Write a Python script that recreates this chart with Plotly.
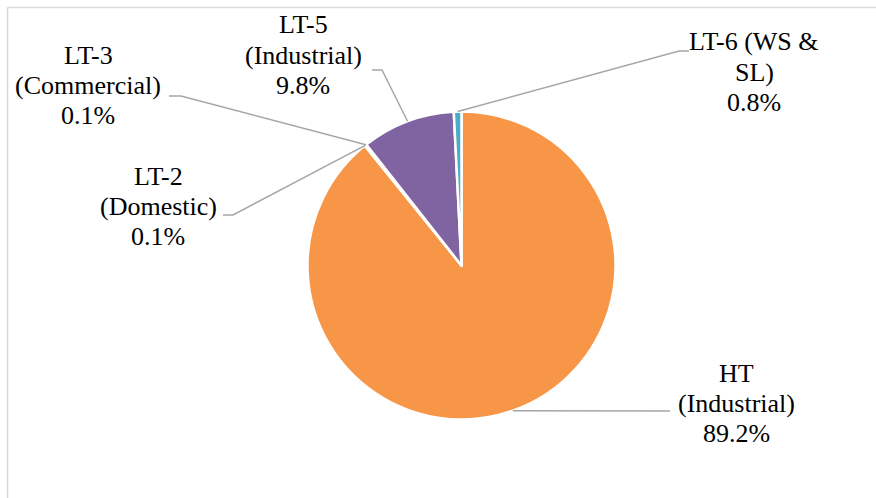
import math
import plotly.graph_objects as go

# ---- data ----
labels = ["HT (Industrial)", "LT-2 (Domestic)", "LT-3 (Commercial)", "LT-5 (Industrial)", "LT-6 (WS & SL)"]
values = [89.2, 0.1, 0.1, 9.8, 0.8]
label_lines = [["HT", "(Industrial)", "89.2%"], ["LT-2", "(Domestic)", "0.1%"],
               ["LT-3", "(Commercial)", "0.1%"], ["LT-5", "(Industrial)", "9.8%"],
               ["LT-6 (WS &", "SL)", "0.8%"]]
colors = ["#F79646", "#4F81BD", "#C0504D", "#8064A2", "#4BACC6"]

# ---- layout (pixel) ----
W, H = 876, 498
CX, CY, R = 461.5, 265.5, 154.0
LINE_GAP = 30
# label middle-line centre positions and leader-line elbow points (pixels)
label_pos = [(736, 403), (158, 206.5), (88, 85.5), (303, 55), (754, 72)]
elbow_pos = [[(670, 411)], [(233, 215), (223, 215)], [(181, 96), (169, 96)],
             [(382, 70), (372, 70)], [(679, 51), (689, 51)]]

def px(x):
    return x / W

def py(y):
    return 1 - y / H

fig = go.Figure(go.Pie(
    labels=labels, values=values, sort=False, direction="clockwise", rotation=0,
    marker=dict(colors=colors, line=dict(color="white", width=2.5)),
    textinfo="none", hoverinfo="skip", showlegend=False,
    domain=dict(x=[px(CX - R), px(CX + R)], y=[py(CY + R), py(CY - R)]),
))

total = sum(values)
cum = 0.0
shapes = []
annotations = []
for i, v in enumerate(values):
    mid = (cum + v / 2) / total * 2 * math.pi
    cum += v
    ex = CX + R * math.sin(mid)
    ey = CY - R * math.cos(mid)
    pts = [(ex, ey)] + elbow_pos[i]
    path = "M " + " L ".join(f"{px(x):.5f},{py(y):.5f}" for x, y in pts)
    shapes.append(dict(type="path", path=path, xref="paper", yref="paper",
                       line=dict(color="#A6A6A6", width=1.5)))
    lx, ly = label_pos[i]
    for k, line in enumerate(label_lines[i]):
        annotations.append(dict(text=line, x=px(lx), y=py(ly + (k - 1) * LINE_GAP),
                                xref="paper", yref="paper",
                                xanchor="center", yanchor="middle", showarrow=False, align="center",
                                font=dict(family="Liberation Serif, DejaVu Serif, serif", size=26,
                                          color="#000000")))

# chart frame (top and left edges visible)
shapes.append(dict(type="line", xref="paper", yref="paper", x0=px(7.5), x1=1, y0=py(7.5), y1=py(7.5),
                   line=dict(color="#D9D9D9", width=1.5)))
shapes.append(dict(type="line", xref="paper", yref="paper", x0=px(7.5), x1=px(7.5), y0=py(7.5), y1=0,
                   line=dict(color="#D9D9D9", width=1.5)))

fig.update_layout(
    width=W, height=H, margin=dict(l=0, r=0, t=0, b=0),
    paper_bgcolor="white", plot_bgcolor="white",
    shapes=shapes, annotations=annotations, showlegend=False,
)

fig.write_html("out.html")
